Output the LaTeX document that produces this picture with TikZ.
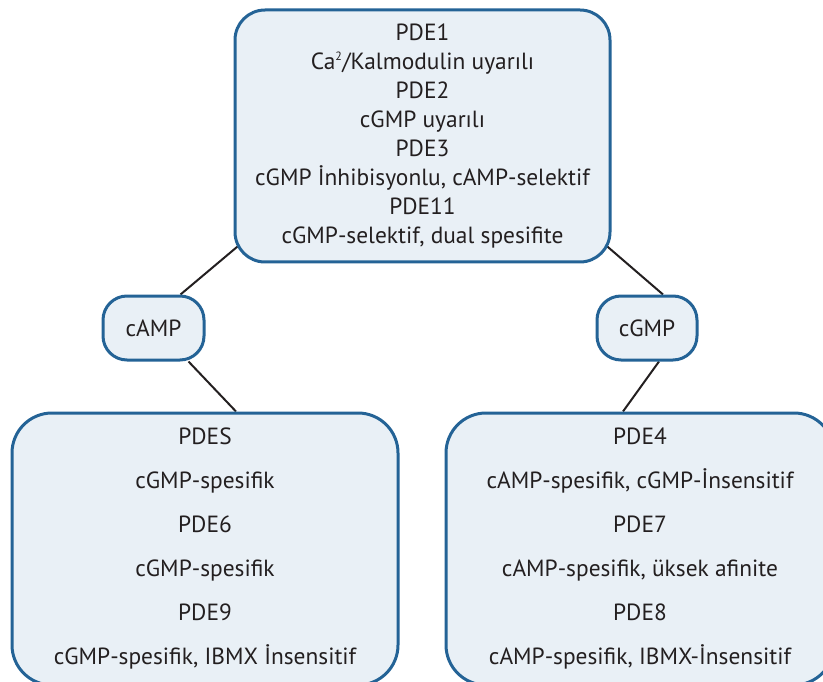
\documentclass[tikz,border=0pt]{standalone}
\usepackage{fontspec}
\setmainfont{PT Sans}
\usetikzlibrary{backgrounds}
\definecolor{boxblue}{RGB}{36,99,150}
\definecolor{boxfill}{RGB}{233,240,246}
\definecolor{inkgray}{RGB}{35,31,32}
\tikzset{
  pdebox/.style={draw=boxblue, fill=boxfill, line width=3pt, rounded corners=#1,
    align=center, text=inkgray, inner sep=0pt},
  link/.style={draw=inkgray, line width=2pt}
}
\begin{document}
\begin{tikzpicture}[x=1pt,y=-1pt]
    \clip (0,0) rectangle (823,682);
    \node[pdebox=30pt, minimum width=375pt, minimum height=252pt,
      font=\fontsize{23.4}{29}\selectfont] (top) at (422.5,136)
      {PDE1\\Ca\textsuperscript{\fontsize{12}{12}\selectfont 2}/Kalmodulin uyarılı\\PDE2\\cGMP uyarılı\\PDE3\\
       cGMP İnhibisyonlu, cAMP-selektif\\PDE11\\cGMP-selektif, dual spesifite};
    \node[pdebox=24pt, minimum width=101pt, minimum height=64pt,
      font=\fontsize{23.4}{28}\selectfont] (camp) at (153.5,328) {cAMP};
    \node[pdebox=24pt, minimum width=100pt, minimum height=64pt,
      font=\fontsize{23.4}{28}\selectfont] (cgmp) at (647,328) {cGMP};
    \node[pdebox=40pt, minimum width=386pt, minimum height=272pt,
      font=\fontsize{23.4}{44}\selectfont] (lbox) at (205,549)
      {PDES\\cGMP-spesifik\\PDE6\\cGMP-spesifik\\PDE9\\cGMP-spesifik, IBMX İnsensitif};
    \node[pdebox=40pt, minimum width=388pt, minimum height=272pt,
      font=\fontsize{23.4}{44}\selectfont] (rbox) at (640,549)
      {PDE4\\cAMP-spesifik, cGMP-İnsensitif\\PDE7\\cAMP-spesifik, üksek afinite\\PDE8\\
       cAMP-spesifik, IBMX-İnsensitif};
    \begin{scope}[on background layer]
    \draw[link] ([xshift=10pt,yshift=22pt]top.south west) -- ([xshift=27pt]camp.north);
    \draw[link] ([xshift=35pt]camp.south) -- ([xshift=31pt]lbox.north);
    \draw[link] ([xshift=-10pt,yshift=22pt]top.south east) -- ([xshift=16pt]cgmp.north);
    \draw[link] ([xshift=12pt]cgmp.south) -- ([xshift=-17pt]rbox.north);
    \end{scope}
\end{tikzpicture}
\end{document}
